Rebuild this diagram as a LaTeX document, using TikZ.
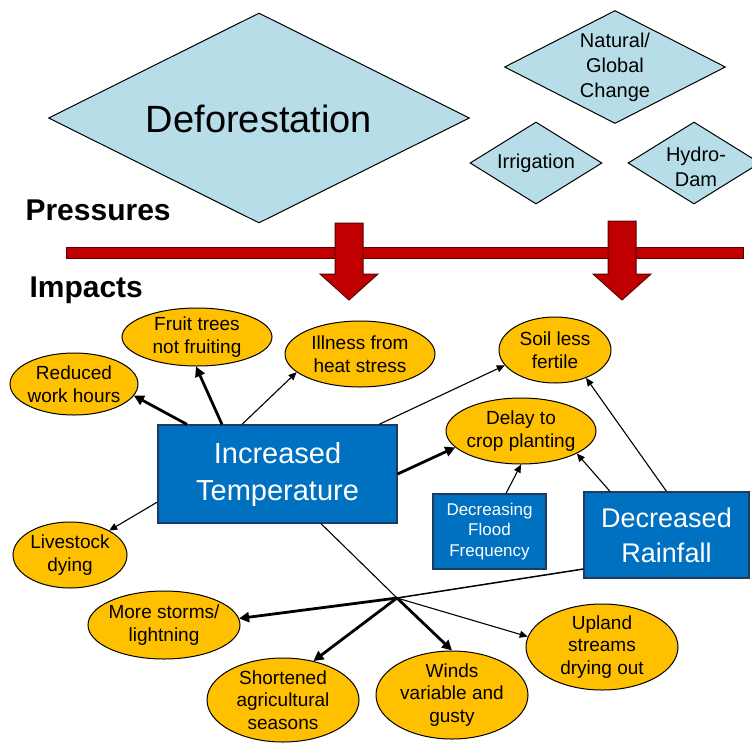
\documentclass[tikz,border=0pt]{standalone}
\usepackage{fontspec}
\setmainfont{Liberation Sans}
\usetikzlibrary{shapes.geometric,arrows.meta,calc}
\definecolor{diafill}{HTML}{B7DEE8}
\definecolor{ovalfill}{HTML}{FFC000}
\definecolor{boxfill}{HTML}{0070C0}
\definecolor{boxline}{HTML}{1F3A5F}
\definecolor{redfill}{HTML}{C00000}
\definecolor{redline}{HTML}{5A0000}
\begin{document}
\begin{tikzpicture}[x=1pt,y=-1pt,
  dia/.style={diamond, draw=black, line width=1pt, fill=diafill, inner sep=0pt},
  oval/.style={ellipse, draw=black, line width=1pt, fill=ovalfill, inner sep=0pt},
  otext/.style={font=\fontsize{19}{22.5}\selectfont, align=center},
  dtext/.style={font=\fontsize{20}{25}\selectfont, align=center},
  bluebox/.style={rectangle, draw=boxline, line width=1.2pt, fill=boxfill, text=white, inner sep=0pt, align=center},
  heading/.style={anchor=west, font=\fontsize{30}{35}\selectfont\bfseries},
  thinarrow/.style={line width=1.1pt, -{Triangle[length=8pt,width=7pt]}},
  thickarrow/.style={line width=2.8pt, -{Triangle[length=10pt,width=10pt]}},
  plainline/.style={line width=1.1pt},
  redarrow/.style={fill=redfill, draw=redline, line width=1pt}
]
\useasboundingbox (0,0) rectangle (752,742);

% pressures (diamonds)
\node[dia, minimum width=421pt, minimum height=210pt,
  label={[font=\fontsize{38}{44}\selectfont, yshift=-1pt]center:Deforestation}] (defor) at (259,118) {};
\node[dia, minimum width=221pt, minimum height=113pt,
  label={[dtext]center:Natural/\\Global\\Change}] (natural) at (615,67) {};
\node[dia, minimum width=132pt, minimum height=82pt,
  label={[dtext]center:Irrigation}] (irrig) at (536,163) {};
\node[dia, minimum width=132pt, minimum height=82pt,
  label={[dtext, yshift=-4pt, xshift=2pt]center:Hydro-\\Dam}] (hydro) at (694,163) {};

% headings
\node[heading] (pressures) at (22,210) {Pressures};
\node[heading] (impacts) at (26,290) {Impacts};

% red bar and arrows
\draw[redarrow] (66,247) rectangle (743,258);
\draw[redarrow] (335,223) -- (363,223) -- (363,274) -- (378,274) -- (349,300) -- (320,274) -- (335,274) -- cycle;
\draw[redarrow] (608,221) -- (636,221) -- (636,274) -- (651,274) -- (622,300) -- (593,274) -- (608,274) -- cycle;

% impacts (ellipses)
\node[oval, minimum width=128pt, minimum height=62pt,
  label={[otext]center:Reduced\\work hours}] (reduced) at (74,384) {};
\node[oval, minimum width=150pt, minimum height=58pt,
  label={[otext]center:Fruit trees\\not fruiting}] (fruit) at (197,337) {};
\node[oval, minimum width=150pt, minimum height=66pt,
  label={[otext]center:Illness from\\heat stress}] (illness) at (360,354) {};
\node[oval, minimum width=112pt, minimum height=66pt,
  label={[otext]center:Soil less\\fertile}] (soil) at (555,350) {};
\node[oval, minimum width=150pt, minimum height=66pt,
  label={[otext]center:Delay to\\crop planting}] (delay) at (521,431) {};
\node[oval, minimum width=114pt, minimum height=66pt,
  label={[otext]center:Livestock\\dying}] (livestock) at (70,555) {};
\node[oval, minimum width=152pt, minimum height=68pt,
  label={[otext]center:More storms/\\lightning}] (storms) at (164,625) {};
\node[oval, minimum width=152pt, minimum height=84pt,
  label={[otext]center:Shortened\\agricultural\\seasons}] (shortened) at (283,700) {};
\node[oval, minimum width=152pt, minimum height=88pt,
  label={[otext]center:Winds\\variable and\\gusty}] (winds) at (452,695) {};
\node[oval, minimum width=152pt, minimum height=86pt,
  label={[otext]center:Upland\\streams\\drying out}] (upland) at (602,647) {};

% drivers (blue boxes)
\node[bluebox, minimum width=239pt, minimum height=98pt,
  font=\fontsize{29}{37}\selectfont] (temp) at (277.5,474) {Increased\\Temperature};
\node[bluebox, minimum width=113pt, minimum height=75pt,
  font=\fontsize{17}{20.5}\selectfont] (flood) at (489.5,531.5) {Decreasing\\Flood\\Frequency};
\node[bluebox, minimum width=165pt, minimum height=86pt,
  font=\fontsize{27}{35}\selectfont] (rain) at (666.5,535) {Decreased\\Rainfall};

% connectors from Increased Temperature
\draw[thickarrow] ([xshift=-90.5pt]temp.north) -- (reduced.-11);
\draw[thickarrow] ([xshift=-55.5pt]temp.north) -- (fruit.268);
\draw[thinarrow] ([xshift=-35.5pt]temp.north) -- (illness.196);
\draw[thinarrow] ([xshift=101.5pt]temp.north) -- (soil.197);
\draw[thickarrow] (temp.east) -- (delay.194);
\draw[thinarrow] ([yshift=-28pt]temp.west) -- (livestock.32);

% other drivers
\draw[thinarrow] ([xshift=16.5pt]flood.north) -- (delay.270);
\draw[thinarrow] ([xshift=-56.5pt]rain.north) -- (delay.338);
\draw[thinarrow] (rain.north) -- (soil.318);

% converging lines
\coordinate (hub) at (397,598);
\draw[plainline] ([xshift=43.5pt]temp.south) -- (hub);
\draw[plainline, line width=1.5pt] ([yshift=-34pt]rain.west) -- (hub);
\draw[thickarrow] (hub) -- (storms.5);
\draw[thickarrow] (hub) -- (shortened.52);
\draw[thickarrow] (hub) -- (winds.north);
\draw[thinarrow] (hub) -- (upland.172);
\end{tikzpicture}
\end{document}
